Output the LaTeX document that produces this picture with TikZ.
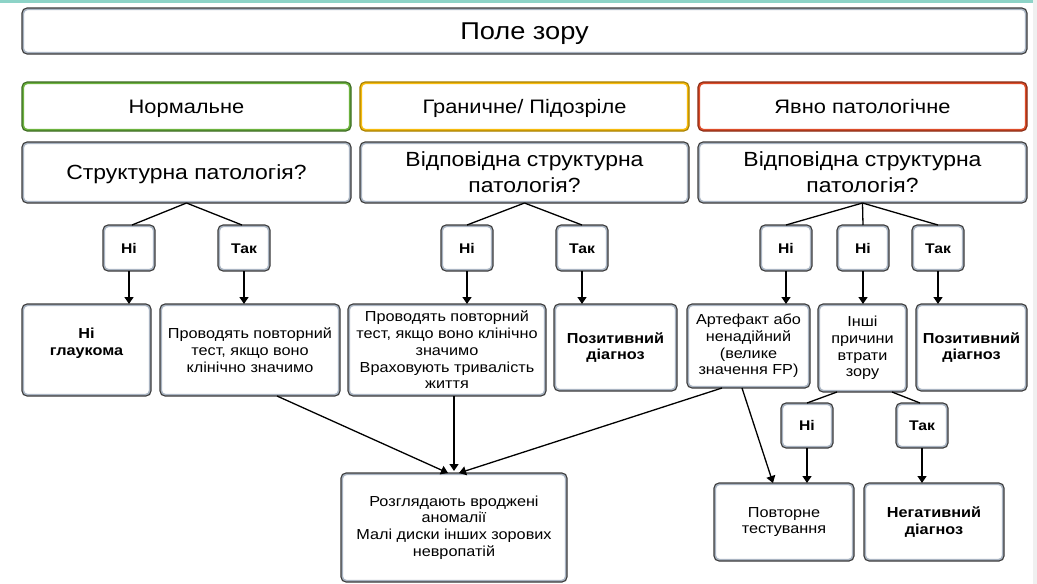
\documentclass[tikz,border=0pt]{standalone}
\usepackage{fontspec}
\setmainfont{Liberation Sans}[FakeStretch=1.12]
\usetikzlibrary{arrows.meta}
\definecolor{gdk}{HTML}{3C3C3C}
\definecolor{glt}{HTML}{A9B4C2}
\definecolor{grdk}{HTML}{3D6B22}
\definecolor{grlt}{HTML}{6DB33F}
\definecolor{ydk}{HTML}{A88000}
\definecolor{ylt}{HTML}{F6BB0E}
\definecolor{rdk}{HTML}{8A2C14}
\definecolor{rlt}{HTML}{DD4D2A}
\definecolor{band}{HTML}{8DD3C7}
\newcommand{\fTitle}{\fontsize{24.3}{28}\selectfont}
\newcommand{\fCat}{\fontsize{19.5}{23}\selectfont}
\newcommand{\fQ}{\fontsize{20.5}{25.7}\selectfont}
\newcommand{\fBody}{\fontsize{14.5}{16.7}\selectfont}
\newcommand{\fSmall}{\fontsize{14}{16}\selectfont\bfseries}
\newcommand{\capc}[1]{\raisebox{0pt}[0.72em][0pt]{#1}}
\tikzset{
  bx/.style 2 args={rounded corners=5pt, fill=white, draw=#1, line width=1.1pt,
    align=center, inner sep=2pt, outer sep=0pt,
    path picture={\draw[#2, line width=4.4pt, rounded corners=5pt]
      (path picture bounding box.south west) rectangle (path picture bounding box.north east);}},
  gbox/.style={bx={gdk}{glt}},
  greenbox/.style={bx={grdk}{grlt}},
  yelbox/.style={bx={ydk}{ylt}},
  redbox/.style={bx={rdk}{rlt}},
  cat/.style={minimum width=329pt, minimum height=49pt, font=\fCat},
  qbox/.style={gbox, minimum width=329pt, minimum height=61pt, font=\fQ},
  yn/.style={gbox, minimum width=52pt, minimum height=46pt, font=\fSmall},
  res/.style={gbox, font=\fBody},
  conn/.style={line width=1.3pt, black},
  arr/.style={conn, -{Triangle[width=9pt,length=7pt]}},
}
\begin{document}
\begin{tikzpicture}[x=1pt, y=-1pt]
\useasboundingbox (0,0) rectangle (1037,584);
\fill[white] (0,0) rectangle (1037,584);
\fill[band] (0,0) rectangle (1033,3);
\fill[black!6] (1033,0) rectangle (1037,584);

\node[gbox, minimum width=1005pt, minimum height=46pt, font=\fTitle] (title) at (524.5,31) {\capc{Поле зору}};

\node[greenbox, cat] (normal) at (186.5,106.5) {\capc{Нормальне}};
\node[yelbox, cat] (border) at (524.5,106.5) {\capc{Граничне/ Підозріле}};
\node[redbox, cat] (patol) at (862.5,106.5) {\capc{Явно патологічне}};

\node[qbox] (q1) at (186.5,172.5) {\capc{Структурна патологія?}};
\node[qbox] (q2) at (524.5,172.5) {Відповідна структурна\\патологія?};
\node[qbox] (q3) at (862.5,172.5) {Відповідна структурна\\патологія?};

\node[yn] (n1) at (129,248) {\capc{Ні}};
\node[yn] (t1) at (244,248) {\capc{Так}};
\node[yn] (n2) at (467,248) {\capc{Ні}};
\node[yn] (t2) at (582,248) {\capc{Так}};
\node[yn] (n3) at (786,248) {\capc{Ні}};
\node[yn] (n4) at (863,248) {\capc{Ні}};
\node[yn] (t3) at (938,248) {\capc{Так}};

\node[res, minimum width=129pt, minimum height=92pt, font=\fBody\bfseries] (r1) at (86.5,350) {Ні\\глаукома\\\mbox{}};
\node[res, minimum width=180pt, minimum height=92pt] (r2) at (250,350) {Проводять повторний\\тест, якщо воно\\клінічно значимо};
\node[res, minimum width=198pt, minimum height=92pt] (r3) at (447,350) {Проводять повторний\\тест, якщо воно клінічно\\значимо\\Враховують тривалість\\життя};
\node[res, minimum width=123pt, minimum height=87pt, font=\fBody\bfseries] (r4) at (615.5,347.5) {Позитивний\\діагноз};
\node[res, minimum width=123pt, minimum height=84pt] (r5) at (748.5,346) {Артефакт або\\ненадійний\\(велике\\значення FP)};
\node[res, minimum width=89pt, minimum height=88pt] (r6) at (862.5,348) {Інші\\причини\\втрати\\зору};
\node[res, minimum width=111pt, minimum height=87pt, font=\fBody\bfseries] (r7) at (971.5,347.5) {Позитивний\\діагноз};

\node[yn, minimum height=45pt] (n5) at (807,425.5) {\capc{Ні}};
\node[yn, minimum height=45pt] (t5) at (922,425.5) {\capc{Так}};

\node[res, minimum width=226pt, minimum height=109pt] (rozgl) at (454,527.5) {Розглядають вроджені\\аномалії\\Малі диски інших зорових\\невропатій};
\node[res, minimum width=140pt, minimum height=78pt] (povt) at (784,522) {Повторне\\тестування};
\node[res, minimum width=140pt, minimum height=78pt, font=\fBody\bfseries] (neg) at (934,522) {Негативний\\діагноз};

% question -> yes/no
\draw[conn] (q1.south) -- ([xshift=3pt]n1.north);
\draw[conn] (q1.south) -- ([xshift=-2pt]t1.north);
\draw[conn] (q2.south) -- (n2.north);
\draw[conn] (q2.south) -- (t2.north);
\draw[conn] (q3.south) -- (n3.north);
\draw[conn] (q3.south) -- (n4.north);
\draw[conn] (q3.south) -- (t3.north);

% yes/no -> results
\draw[arr] (n1.south) -- (n1.south |- r1.north);
\draw[arr] (t1.south) -- (t1.south |- r2.north);
\draw[arr] (n2.south) -- (n2.south |- r3.north);
\draw[arr] (t2.south) -- (t2.south |- r4.north);
\draw[arr] (n3.south) -- (n3.south |- r5.north);
\draw[arr] (n4.south) -- (n4.south |- r6.north);
\draw[arr] (t3.south) -- (t3.south |- r7.north);

% other causes -> yes/no
\draw[conn] ([xshift=-25.5pt]r6.south) -- (n5.north);
\draw[conn] ([xshift=29.5pt]r6.south) -- ([xshift=-2pt]t5.north);
\draw[arr] (n5.south) -- (n5.south |- povt.north);
\draw[arr] (t5.south) -- (t5.south |- neg.north);

% artefact -> retest
\draw[arr] ([xshift=-6.5pt]r5.south) -- ([xshift=-11pt]povt.north);

% converge on rozgl
\draw[arr] ([xshift=27pt]r2.south) -- ([xshift=-6pt]rozgl.north);
\draw[arr] (rozgl.north |- r3.south) -- ([yshift=2pt]rozgl.north);
\draw[arr] ([xshift=-26.5pt]r5.south) -- ([xshift=5pt]rozgl.north);
\end{tikzpicture}
\end{document}
